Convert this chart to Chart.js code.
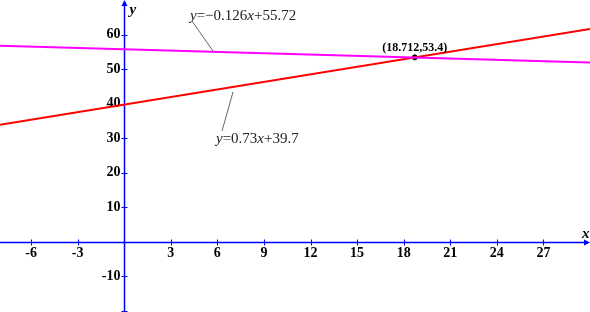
<!DOCTYPE html>
<html>
<head>
<meta charset="utf-8">
<script src="https://cdn.jsdelivr.net/npm/chart.js@4"></script>
<style>
  html, body { margin: 0; padding: 0; background: #fff; }
  #wrap { width: 590px; height: 312px; }
</style>
</head>
<body>
<div id="wrap"><canvas id="lineChart" width="590" height="312"></canvas></div>
<script>
// line end points (x from -8 to 30)
const lineX = [-8, 30];
const magentaY = [56.73, 51.94];
const redY = [33.86, 61.6];
// intersection point
const crossPoint = [{ x: 18.712, y: 53.4 }];
const crossLabel = "(18.712,53.4)";

// axis ticks
const xTicks = [-6, -3, 3, 6, 9, 12, 15, 18, 21, 24, 27];
const yTicks = [-20, -10, 10, 20, 30, 40, 50, 60];
const yTickLabels = ["", "-10", "10", "20", "30", "40", "50", "60"];

const serif = "'Liberation Serif', 'Times New Roman', serif";

// draws the blue axes through the origin, with ticks and labels
const axesPlugin = {
    id: 'axes',
    beforeDatasetsDraw(chart) {
        const ctx = chart.ctx;
        const xs = chart.scales.x, ys = chart.scales.y;
        const x0 = Math.round(xs.getPixelForValue(0)) + 0.5;
        const y0 = Math.round(ys.getPixelForValue(0)) + 0.5;
        const w = chart.width, h = chart.height;

        ctx.save();
        ctx.strokeStyle = '#0000ff';
        ctx.fillStyle = '#0000ff';
        ctx.lineWidth = 1.5;
        ctx.beginPath();
        ctx.moveTo(0, y0); ctx.lineTo(w - 2, y0);
        ctx.moveTo(x0, h); ctx.lineTo(x0, 3);
        ctx.stroke();

        // arrow heads
        ctx.beginPath();
        ctx.moveTo(w, y0); ctx.lineTo(w - 6, y0 - 3); ctx.lineTo(w - 6, y0 + 3); ctx.closePath();
        ctx.fill();
        ctx.beginPath();
        ctx.moveTo(x0, 0); ctx.lineTo(x0 - 3, 6); ctx.lineTo(x0 + 3, 6); ctx.closePath();
        ctx.fill();

        ctx.lineWidth = 1;
        ctx.beginPath();
        xTicks.forEach(v => {
            const px = Math.round(xs.getPixelForValue(v)) + 0.5;
            ctx.moveTo(px, y0 - 3); ctx.lineTo(px, y0 + 3);
        });
        yTicks.forEach(v => {
            const py = Math.round(ys.getPixelForValue(v)) + 0.5;
            ctx.moveTo(x0 - 3, py); ctx.lineTo(x0 + 3, py);
        });
        ctx.stroke();

        ctx.fillStyle = '#000';
        ctx.font = 'bold 14px ' + serif;
        ctx.textAlign = 'center';
        ctx.textBaseline = 'top';
        xTicks.forEach(v => {
            ctx.fillText(String(v), xs.getPixelForValue(v), y0 + 4);
        });
        ctx.textAlign = 'right';
        ctx.textBaseline = 'middle';
        yTicks.forEach((v, i) => {
            ctx.fillText(yTickLabels[i], x0 - 4, ys.getPixelForValue(v));
        });

        ctx.font = 'bold italic 15px ' + serif;
        ctx.textAlign = 'left';
        ctx.textBaseline = 'alphabetic';
        ctx.fillText('y', x0 + 5, 14);
        ctx.fillText('x', w - 8, y0 - 5);
        ctx.restore();
    },
    afterDatasetsDraw(chart) {
        const ctx = chart.ctx;
        const xs = chart.scales.x, ys = chart.scales.y;

        // mixed italic / upright equation text
        function drawEq(parts, x, y) {
            let cx = x;
            parts.forEach(p => {
                ctx.font = (p[1] ? 'italic ' : '') + '15px ' + serif;
                ctx.fillText(p[0], cx, y);
                cx += ctx.measureText(p[0]).width;
            });
        }

        ctx.save();
        ctx.strokeStyle = '#666';
        ctx.lineWidth = 1;
        ctx.beginPath();
        ctx.moveTo(192, 21); ctx.lineTo(213, 51);
        ctx.moveTo(233, 92); ctx.lineTo(222, 131);
        ctx.stroke();

        ctx.fillStyle = '#222';
        ctx.textAlign = 'left';
        ctx.textBaseline = 'alphabetic';
        drawEq([['y', true], ['=\u22120.126', false], ['x', true], ['+55.72', false]], 190, 20);
        drawEq([['y', true], ['=0.73', false], ['x', true], ['+39.7', false]], 216, 143);

        ctx.fillStyle = '#000';
        ctx.font = 'bold 12px ' + serif;
        ctx.textAlign = 'center';
        const p = crossPoint[0];
        ctx.fillText(crossLabel, xs.getPixelForValue(p.x), ys.getPixelForValue(p.y) - 6);
        ctx.restore();
    }
};

new Chart(document.getElementById('lineChart'), {
    type: 'scatter',
    data: {
        datasets: [{
            data: lineX.map((x, i) => ({ x: x, y: magentaY[i] })),
            showLine: true,
            borderColor: '#ff00ff',
            borderWidth: 2,
            pointRadius: 0
        }, {
            data: lineX.map((x, i) => ({ x: x, y: redY[i] })),
            showLine: true,
            borderColor: '#ff0000',
            borderWidth: 2,
            pointRadius: 0
        }, {
            data: crossPoint,
            pointRadius: 2.5,
            backgroundColor: '#000',
            borderColor: '#000'
        }]
    },
    options: {
        responsive: false,
        animation: false,
        layout: { padding: 0, autoPadding: false },
        plugins: { legend: { display: false }, tooltip: { enabled: false } },
        scales: {
            x: { type: 'linear', min: -8, max: 30, display: false },
            y: { type: 'linear', min: -20.3, max: 70, display: false }
        }
    },
    plugins: [axesPlugin]
});
</script>
</body>
</html>
